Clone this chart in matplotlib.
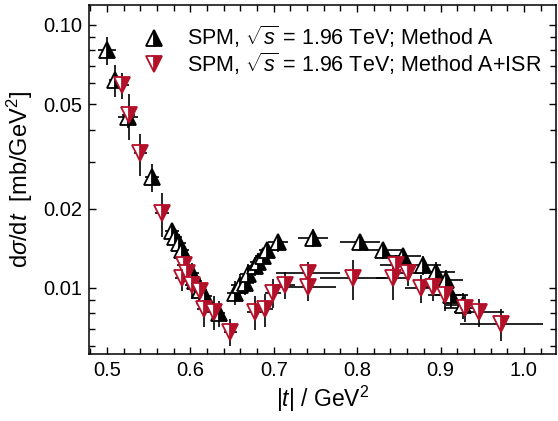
import matplotlib
matplotlib.use('Agg')
import matplotlib.pyplot as plt
from matplotlib.ticker import FixedLocator, FixedFormatter, MultipleLocator

plt.rcParams['font.family'] = ['Liberation Sans', 'DejaVu Sans']
plt.rcParams['mathtext.fontset'] = 'custom'
plt.rcParams['mathtext.rm'] = 'Liberation Sans'
plt.rcParams['mathtext.it'] = 'Liberation Sans:italic'

# Method A (black, up triangles)
t_a = [0.500, 0.510, 0.525, 0.554, 0.578, 0.582, 0.587, 0.590, 0.602, 0.606, 0.612,
       0.618, 0.634, 0.654, 0.659, 0.666, 0.669, 0.678, 0.681, 0.687, 0.692, 0.705,
       0.747, 0.803, 0.831, 0.855, 0.879, 0.895, 0.907, 0.913, 0.927]
ds_a = [0.0803, 0.0618, 0.0447, 0.0264, 0.0164, 0.0156, 0.0148, 0.0139, 0.0114, 0.0106, 0.0098,
        0.0093, 0.0080, 0.0096, 0.0103, 0.0104, 0.0113, 0.0121, 0.0126, 0.0132, 0.0139, 0.0149,
        0.0155, 0.0150, 0.0139, 0.0132, 0.0122, 0.0115, 0.0107, 0.0094, 0.0086]
dt_a = [0.011, 0.008, 0.012, 0.008, 0.008, 0.008, 0.008, 0.008, 0.008, 0.008, 0.008,
        0.008, 0.008, 0.010, 0.010, 0.010, 0.010, 0.010, 0.010, 0.010, 0.010, 0.012,
        0.018, 0.024, 0.023, 0.022, 0.022, 0.022, 0.020, 0.020, 0.020]
err_a = [0.0100, 0.0085, 0.0040, 0.0033, 0.0012, 0.0012, 0.0012, 0.0012, 0.0010, 0.0010, 0.0010,
         0.0010, 0.0009, 0.0010, 0.0010, 0.0010, 0.0010, 0.0010, 0.0010, 0.0010, 0.0010, 0.0012,
         0.0012, 0.0008, 0.0010, 0.0010, 0.0010, 0.0010, 0.0010, 0.0010, 0.0010]

# Method A+ISR (red, down triangles)
t_b = [0.518, 0.526, 0.540, 0.566, 0.592, 0.596, 0.590, 0.602, 0.612, 0.616, 0.628,
       0.648, 0.678, 0.689, 0.699, 0.713, 0.741, 0.741, 0.795, 0.843, 0.847, 0.861,
       0.877, 0.891, 0.905, 0.929, 0.946, 0.973]
ds_b = [0.0591, 0.0455, 0.0326, 0.0193, 0.0122, 0.0114, 0.0109, 0.0103, 0.0097, 0.0083, 0.0081,
        0.0068, 0.0081, 0.0083, 0.0096, 0.0103, 0.0114, 0.0101, 0.0109, 0.0109, 0.0122, 0.0114,
        0.0100, 0.0101, 0.0094, 0.0084, 0.0081, 0.0073]
dt_b = [0.008, 0.008, 0.008, 0.008, 0.008, 0.008, 0.008, 0.008, 0.008, 0.008, 0.008,
        0.008, 0.010, 0.010, 0.010, 0.012, 0.038, 0.034, 0.040, 0.020, 0.020, 0.020,
        0.020, 0.020, 0.020, 0.025, 0.030, 0.050]
err_b = [0.0066, 0.0090, 0.0060, 0.0037, 0.0012, 0.0012, 0.0012, 0.0012, 0.0012, 0.0012, 0.0012,
         0.0008, 0.0012, 0.0012, 0.0012, 0.0012, 0.0012, 0.0012, 0.0019, 0.0019, 0.0012, 0.0012,
         0.0012, 0.0012, 0.0012, 0.0010, 0.0010, 0.0010]

red = '#b3102a'

fig = plt.figure(figsize=(5.58, 4.21), dpi=100)
ax = fig.add_axes([89/558, 1 - 354/421, (556 - 89)/558, (354 - 5)/421])

ax.errorbar(t_a, ds_a, xerr=dt_a, yerr=err_a, fmt='none', ecolor='black', elinewidth=1.2, capsize=0, zorder=2)
ax.errorbar(t_b, ds_b, xerr=dt_b, yerr=err_b, fmt='none', ecolor='black', elinewidth=1.2, capsize=0, zorder=2)
ax.plot(t_a, ds_a, ls='none', marker='^', ms=12, fillstyle='right', color='black',
        markerfacecoloralt='white', markeredgecolor='black', mew=1.3, zorder=3,
        label=r'SPM, $\sqrt{s}$ = 1.96 TeV; Method A')
ax.plot(t_b, ds_b, ls='none', marker='v', ms=12, fillstyle='right', color=red,
        markerfacecoloralt='white', markeredgecolor=red, mew=1.3, zorder=4,
        label=r'SPM, $\sqrt{s}$ = 1.96 TeV; Method A+ISR')

ax.set_yscale('log')
ax.set_xlim(0.4785, 1.0385)
ax.set_ylim(0.00561, 0.1191)

ax.yaxis.set_major_locator(FixedLocator([0.01, 0.02, 0.05, 0.1]))
ax.yaxis.set_major_formatter(FixedFormatter(['0.01', '0.02', '0.05', '0.10']))
ax.yaxis.set_minor_locator(FixedLocator([0.006, 0.007, 0.008, 0.009, 0.03, 0.04,
                                         0.06, 0.07, 0.08, 0.09]))
ax.yaxis.set_minor_formatter(FixedFormatter([]))
ax.xaxis.set_major_locator(MultipleLocator(0.1))
ax.xaxis.set_minor_locator(MultipleLocator(0.02))
ax.xaxis.set_major_formatter(plt.FormatStrFormatter('%.1f'))

ax.tick_params(which='both', direction='in', top=True, right=True, width=1.0, labelsize=14.5)
ax.tick_params(which='major', length=5, pad=5)
ax.tick_params(which='minor', length=4)
for s in ax.spines.values():
    s.set_linewidth(1.1)

ax.set_xlabel(r'|$t$| / GeV$^2$', fontsize=16.5, labelpad=3)
ax.set_ylabel(r'd$\sigma$/d$t$  [mb/GeV$^2$]', fontsize=17, labelpad=6)

leg = ax.legend(loc='upper left', bbox_to_anchor=(0.08, 0.995), frameon=False, fontsize=15.5,
                handlelength=1.0, handletextpad=1.0, labelspacing=0.0, borderaxespad=0.4)

fig.savefig('out.png', dpi=100)
